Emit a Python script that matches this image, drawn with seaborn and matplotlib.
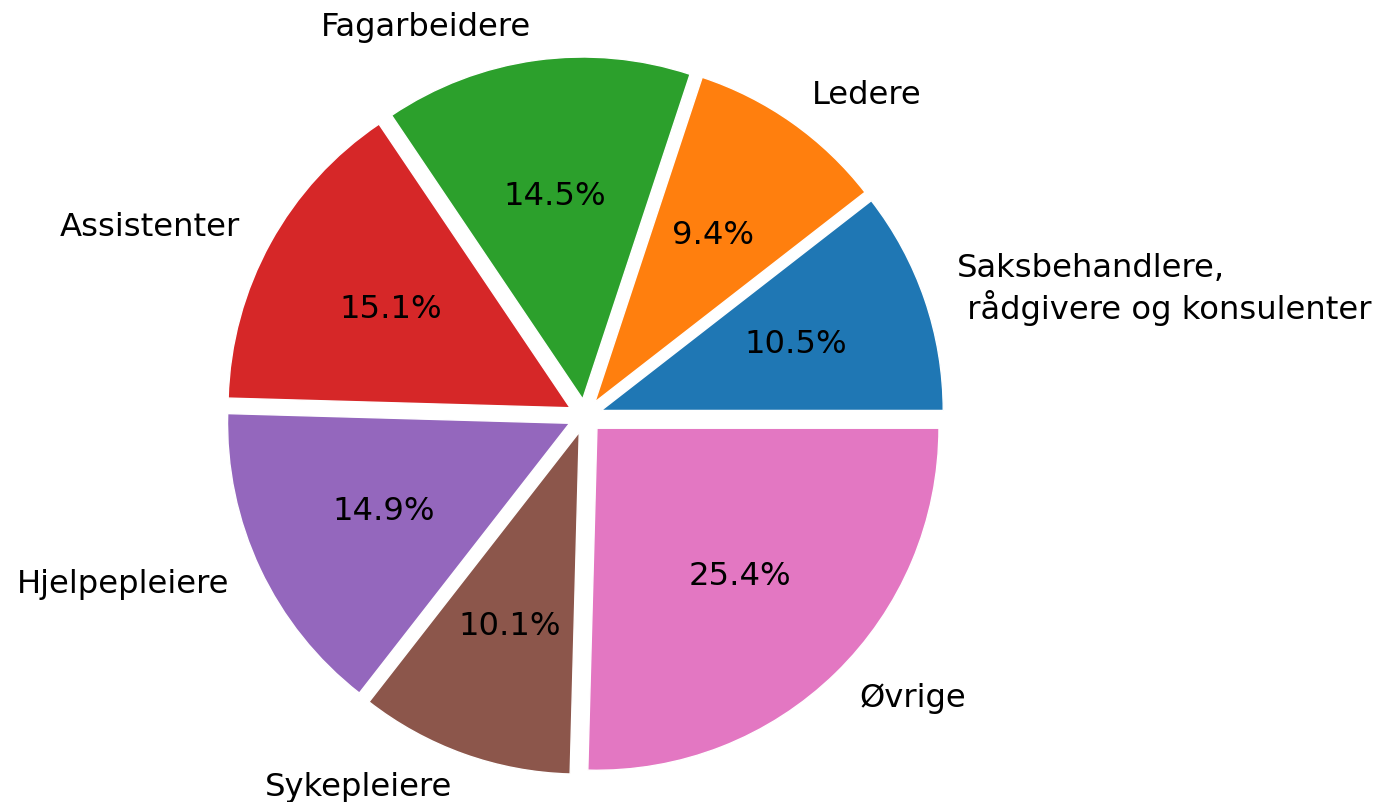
import seaborn as sns
import matplotlib.pyplot as plt

# Andel per yrkesgruppe
labels = ["Saksbehandlere,\n rådgivere og konsulenter", "Ledere", "Fagarbeidere",
          "Assistenter", "Hjelpepleiere", "Sykepleiere", "Øvrige"]
shares = [10.5, 9.4, 14.5, 15.1, 14.9, 10.1, 25.4]

sns.set_style("white")
colors = sns.color_palette("tab10", len(labels))

fig = plt.figure(figsize=(13.78, 8.03), dpi=100)
ax = fig.add_axes([0.1143, -0.0517, 0.6205, 1.0648])
ax.pie(shares, labels=labels, colors=colors, autopct="%1.1f%%",
       explode=[0.05] * len(shares),
       textprops={"fontsize": 23.2, "color": "black"})
ax.set_aspect("equal")

plt.savefig("out.png", dpi=100)
